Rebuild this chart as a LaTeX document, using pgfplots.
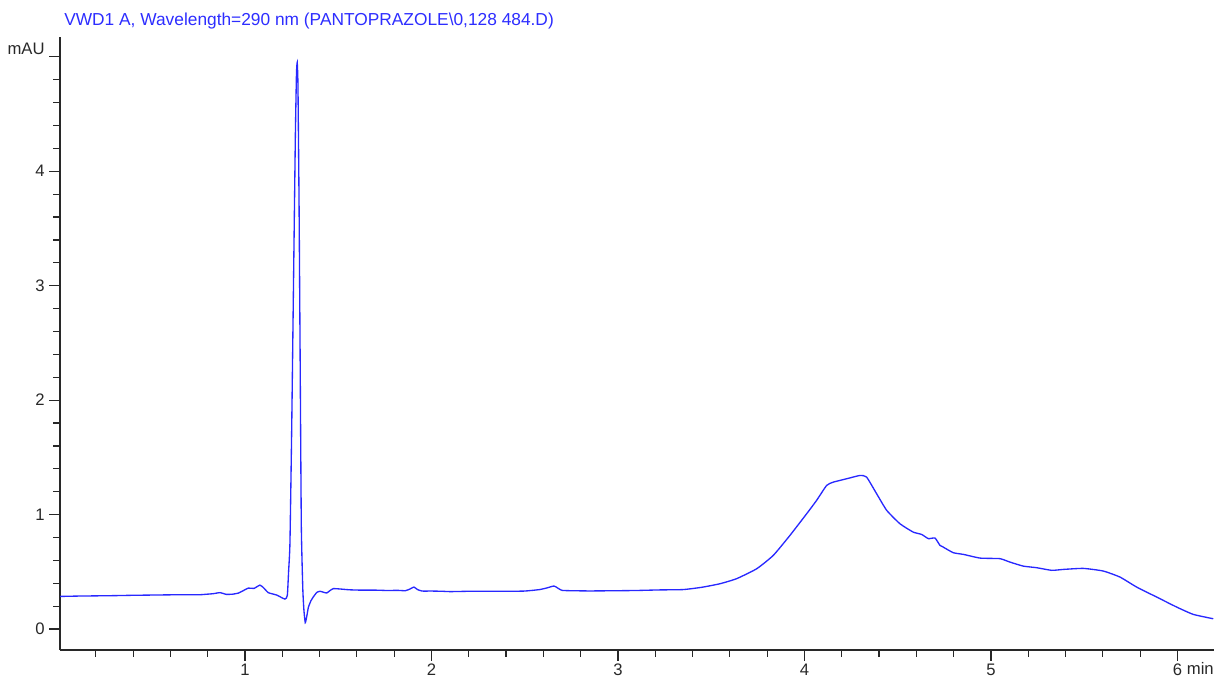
\documentclass[border=0pt]{standalone}
\usepackage{fontspec}
\setmainfont{Liberation Sans}
\usepackage{pgfplots}
\pgfplotsset{compat=1.18}
\definecolor{curveblue}{RGB}{40,40,255}
\definecolor{titleblue}{RGB}{45,45,255}
\definecolor{axisgray}{RGB}{40,40,40}
\begin{document}
\begin{tikzpicture}
\begin{axis}[
  name=ax,
  at={(0,0)}, anchor=south west,
  scale only axis,
  width=865.5pt, height=459.5pt,
  xmin=0.008, xmax=6.196,
  ymin=-0.183, ymax=5.17,
  axis x line*=bottom, axis y line*=left,
  axis line style={-, draw=axisgray, line width=1pt},
  every tick/.style={draw=axisgray, line width=0.9pt},
  tick align=outside,
  major tick length=8pt, minor tick length=5pt,
  xtick={1,2,3,4,5,6},
  minor xtick={0.2,0.4,0.6,0.8,1.2,1.4,1.6,1.8,2.2,2.4,2.6,2.8,3.2,3.4,3.6,3.8,4.2,4.4,4.6,4.8,5.2,5.4,5.6,5.8,6.2},
  ytick={0,1,2,3,4},
  minor ytick={0.2,0.4,0.6,0.8,1.2,1.4,1.6,1.8,2.2,2.4,2.6,2.8,3.2,3.4,3.6,3.8,4.2,4.4,4.6,4.8},
  extra y ticks={5},
  extra y tick labels={mAU},
  extra y tick style={yticklabel style={yshift=6pt}},
  /pgf/number format/assume math mode=true,
  tick label style={font=\fontsize{12.5}{14}\selectfont, text=axisgray},
  xticklabel style={yshift=1pt},
]
\addplot[color=curveblue, line width=1pt, smooth, tension=0.3] coordinates {
(0.008,0.285) (0.1,0.288) (0.2,0.290) (0.3,0.292) (0.4,0.295) (0.5,0.297)
(0.6,0.299) (0.70,0.300) (0.759,0.300) (0.80,0.305) (0.83,0.309) (0.866,0.318)
(0.90,0.303) (0.935,0.305) (0.964,0.314) (0.99,0.335) (1.018,0.358) (1.048,0.355)
(1.08,0.384) (1.10,0.36) (1.125,0.318) (1.17,0.297) (1.214,0.262) (1.227,0.294)
(1.234,0.51) (1.241,0.75) (1.250,1.7) (1.260,3.0) (1.270,4.3) (1.276,4.85)
(1.280,4.95) (1.284,4.75) (1.290,3.7) (1.296,2.3) (1.302,0.9) (1.310,0.35)
(1.316,0.163) (1.323,0.056) (1.33,0.10) (1.34,0.19) (1.353,0.245) (1.366,0.28)
(1.385,0.32) (1.402,0.33) (1.42,0.322) (1.438,0.315) (1.455,0.335) (1.474,0.353)
(1.51,0.35) (1.56,0.343) (1.62,0.34) (1.70,0.34) (1.76,0.337) (1.82,0.338)
(1.86,0.335) (1.885,0.35) (1.906,0.367) (1.925,0.345) (1.95,0.332) (2.00,0.332)
(2.06,0.33) (2.1,0.327) (2.2,0.33) (2.3,0.33) (2.4,0.33) (2.5,0.332)
(2.58,0.345) (2.62,0.36) (2.657,0.376) (2.68,0.355) (2.70,0.338) (2.75,0.335)
(2.85,0.333) (3.0,0.335) (3.1,0.337) (3.225,0.342) (3.35,0.345) (3.45,0.365)
(3.547,0.396) (3.636,0.44) (3.744,0.527) (3.833,0.644) (3.922,0.818) (4.012,1.008)
(4.065,1.124) (4.119,1.255) (4.155,1.284) (4.226,1.313) (4.298,1.342) (4.333,1.328)
(4.387,1.182) (4.441,1.037) (4.512,0.92) (4.583,0.847) (4.628,0.827) (4.664,0.79)
(4.70,0.795) (4.727,0.73) (4.744,0.716) (4.798,0.667) (4.853,0.652) (4.942,0.62)
(5.048,0.615) (5.102,0.585) (5.173,0.55) (5.245,0.536) (5.326,0.513) (5.388,0.521)
(5.495,0.53) (5.602,0.507) (5.692,0.454) (5.781,0.367) (5.888,0.28) (5.996,0.192)
(6.085,0.128) (6.192,0.09)
};
\end{axis}
\node[anchor=base west, inner sep=0pt, text=titleblue, font=\fontsize{13}{15}\selectfont] at ([xshift=3pt, yshift=8.5pt]ax.north west) {VWD1 A, Wavelength=290 nm (PANTOPRAZOLE\textbackslash 0,128 484.D)};
\node[anchor=base east, inner sep=0pt, text=axisgray, font=\fontsize{12.5}{14}\selectfont] at ([yshift=-18.75pt]ax.south east) {min};
\path[use as bounding box] (-45pt,-21.75pt) rectangle (873.75pt,487.5pt);
\end{tikzpicture}
\end{document}
